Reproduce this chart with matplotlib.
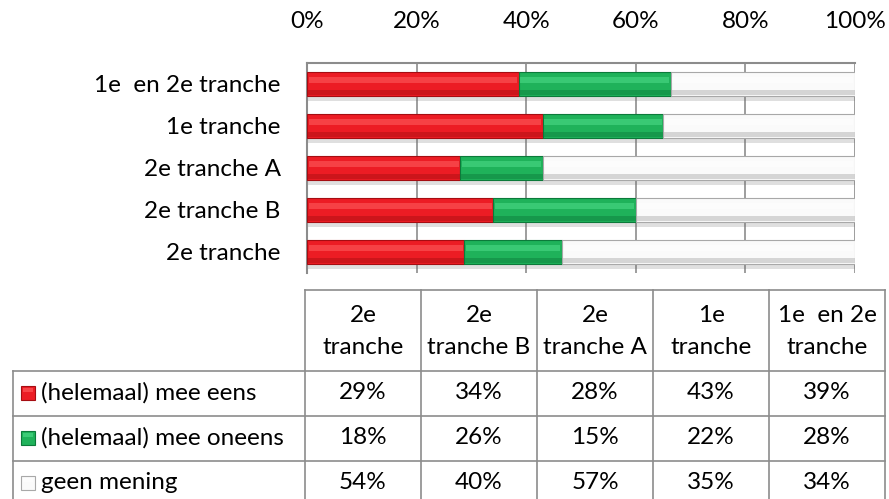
import numpy as np
import matplotlib.pyplot as plt
from matplotlib.patches import Rectangle

# ---------------- data ----------------
groups = ["2e tranche", "2e tranche B", "2e tranche A", "1e tranche", "1e  en 2e tranche"]
col_heads = ["2e\ntranche", "2e\ntranche B", "2e\ntranche A", "1e\ntranche", "1e  en 2e\ntranche"]
series = ["(helemaal) mee eens", "(helemaal) mee oneens", "geen mening"]
mee_eens = [29, 34, 28, 43, 39]
mee_oneens = [18, 26, 15, 22, 28]
geen_mening = [54, 40, 57, 35, 34]
xticks = [0, 20, 40, 60, 80, 100]

# (main, highlight, dark edge)
styles = [("#ec1c24", "#ff6161", "#a50d12"),
          ("#1fb25a", "#4fdc8a", "#0c7a3a"),
          ("#fafafa", "#ffffff", "#a8a8a8")]

FONT = "Lato"
FS = 17.5
W, H = 889, 499

plt.rcParams['font.family'] = [FONT, 'DejaVu Sans']
fig = plt.figure(figsize=(W / 100, H / 100), dpi=100)

# ---------------- stacked bars (100% stacked) ----------------
ax = fig.add_axes([307 / W, 1 - 273 / H, 548 / W, 210 / H])
vals = np.array([mee_eens, mee_oneens, geen_mening], dtype=float)
pct = vals / vals.sum(axis=0) * 100
y = np.arange(len(groups))
bh = 0.55
left = np.zeros(len(groups))
for i in range(len(series)):
    main, hi, dark = styles[i]
    # soft shadow below the bar
    ax.barh(y - 0.12, pct[i], left=left, height=bh, color="#707070", alpha=0.22,
            linewidth=0, zorder=2)
    ax.barh(y, pct[i], left=left, height=bh, color=main, edgecolor=dark,
            linewidth=0.8, zorder=3)
    ax.barh(y + bh * 0.18, pct[i] - 0.6, left=left + 0.3, height=bh * 0.28, color=hi,
            alpha=0.55, linewidth=0, zorder=4)
    ax.barh(y - bh * 0.38, pct[i], left=left, height=bh * 0.22, color=dark,
            alpha=0.45, linewidth=0, zorder=4)
    left += pct[i]

ax.set_xlim(0, 100)
ax.set_ylim(-0.5, len(groups) - 0.5)
ax.set_xticks(xticks)
ax.set_xticklabels([f"{t}%" for t in xticks])
ax.set_yticks(y)
ax.set_yticklabels(groups)
ax.xaxis.tick_top()
ax.tick_params(axis='x', length=0, pad=22, labelsize=FS)
ax.tick_params(axis='y', length=0, pad=19, labelsize=FS)
ax.grid(axis='x', color="#8c8c8c", linewidth=1.2, zorder=0)
ax.set_axisbelow(True)
for s in ['right', 'bottom']:
    ax.spines[s].set_visible(False)
for s in ['top', 'left']:
    ax.spines[s].set_color("#8c8c8c")
    ax.spines[s].set_linewidth(1.5)

# ---------------- data table ----------------
tax = fig.add_axes([0, 0, 1, 1], zorder=-1)
tax.set_xlim(0, W)
tax.set_ylim(H, 0)
tax.axis('off')

col_x = [305, 421, 537, 653, 769, 885]
row_y = [290, 371, 416, 461, 506]
lc = "#8c8c8c"
lw = 1.2
tax.plot([col_x[0], col_x[-1]], [row_y[0], row_y[0]], color=lc, lw=lw)
for ry in row_y[1:]:
    tax.plot([13, col_x[-1]], [ry, ry], color=lc, lw=lw)
for cx in col_x:
    tax.plot([cx, cx], [row_y[0], row_y[-1]], color=lc, lw=lw)
tax.plot([13, 13], [row_y[1], row_y[-1]], color=lc, lw=lw)

for j, head in enumerate(col_heads):
    cx = (col_x[j] + col_x[j + 1]) / 2
    top, bottom = head.split("\n")
    tax.text(cx, 316, top, ha='center', va='center', fontsize=FS)
    tax.text(cx, 347, bottom, ha='center', va='center', fontsize=FS)

for i, name in enumerate(series):
    cy = (row_y[i + 1] + row_y[i + 2]) / 2 - 1
    main, hi, dark = styles[i]
    tax.add_patch(Rectangle((21, cy - 7), 14, 14, facecolor=main, edgecolor=dark, lw=0.8))
    tax.add_patch(Rectangle((23, cy - 5), 10, 4, facecolor=hi, edgecolor='none', alpha=0.6))
    tax.text(41, cy, name, ha='left', va='center', fontsize=FS)
    for j in range(len(groups)):
        cx = (col_x[j] + col_x[j + 1]) / 2
        tax.text(cx, cy, f"{int(vals[i, j])}%", ha='center', va='center', fontsize=FS)

fig.savefig("out.png", dpi=100, facecolor='white')
